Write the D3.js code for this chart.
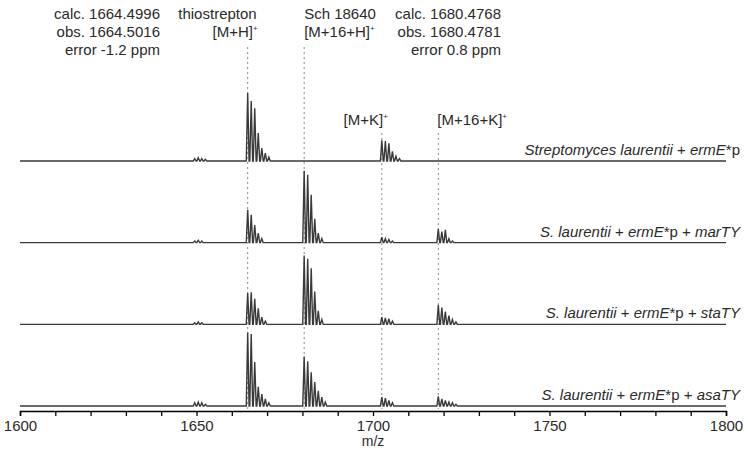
<!DOCTYPE html>
<html>
<head>
<meta charset="utf-8">
<script src="https://cdn.jsdelivr.net/npm/d3@7"></script>
<style>
  body { margin: 0; background: #fff; }
  text { font-family: "Liberation Sans", Arial, Helvetica, sans-serif; fill: #2a2a2a; }
</style>
</head>
<body>
<div id="canvas"></div>
<script>
// m/z of first isotope peak in each cluster
let clusterStart = [1649.5, 1664.5, 1680.5, 1702.5, 1718.5];
// isotope intensities per cluster (relative), one array per trace
let strep = [[3, 4, 3, 2], [85, 75, 66, 35, 16, 10, 5], [], [26, 25, 22, 12, 6, 3], []];
let marTY = [[2, 3, 2], [41, 35, 22, 12, 5], [90, 85, 60, 30, 12, 5], [7, 5, 4, 2], [17, 14, 16, 5, 2]];
let staTY = [[2, 3, 2], [39, 40, 32, 20, 9, 4], [86, 82, 70, 41, 17, 6], [9, 8, 7, 4], [24, 21, 16, 11, 6, 3]];
let asaTY = [[4, 5, 4, 2], [92, 90, 55, 24, 15, 9, 4], [62, 56, 42, 30, 19, 11, 5], [11, 10, 7, 4], [12, 9, 7, 5, 4, 2]];
let traces = [strep, marTY, staTY, asaTY];

let xTicks = [1600, 1650, 1700, 1750, 1800];
let markers = [1664.5, 1680.5, 1702.5, 1718.5];

const svgWidth = 748;
const svgHeight = 455;

const x = d3.scaleLinear().domain([1600, 1800]).range([20, 726]);
const row = d3.scalePoint().domain([0, 1, 2, 3]).range([161, 406]);
const h = d3.scaleLinear().domain([0, 100]).range([0, 80]);

const svg = d3.select("#canvas").append("svg")
    .attr("width", svgWidth)
    .attr("height", svgHeight);

// dotted marker lines
const markTop = [47, 47, 133, 133];
svg.selectAll(".marker")
    .data(markers)
    .enter()
    .append("line")
    .attr("x1", d => x(d)).attr("x2", d => x(d))
    .attr("y1", (d, i) => markTop[i])
    .attr("y2", 409)
    .attr("stroke", "#888")
    .attr("stroke-width", 1)
    .attr("stroke-dasharray", "2,3");

// spectra
function sticks(tr) {
    let s = [];
    tr.forEach(function(c, ci) {
        c.forEach(function(v, k) { s.push([clusterStart[ci] + k, v]); });
    });
    return s;
}

traces.forEach(function(tr, ti) {
    let pts = [[1600, 0]];
    sticks(tr).forEach(function(s) {
        pts.push([s[0] - 0.4, 0], [s[0], s[1]], [s[0] + 0.4, 0]);
    });
    pts.push([1800, 0]);
    const line = d3.line()
        .x(d => x(d[0]))
        .y(d => row(ti) - h(d[1]));
    svg.append("path")
        .attr("d", line(pts))
        .attr("fill", "none")
        .attr("stroke", "#3a3a3a")
        .attr("stroke-width", 1.4);
});

// axis
const axis = d3.axisBottom(x)
    .ticks(20)
    .tickSize(5)
    .tickFormat(d => xTicks.includes(d) ? d : "");
const ax = svg.append("g")
    .attr("transform", "translate(0,411)")
    .call(axis);
ax.select(".domain").attr("stroke", "#000").attr("stroke-width", 1.5);
ax.selectAll(".tick line").attr("stroke", "#000").attr("stroke-width", 1.3);
ax.selectAll(".tick text")
    .attr("dy", 0).attr("y", 20)
    .style("font-size", "15px")
    .style("font-family", "'Liberation Sans', Arial, sans-serif")
    .attr("fill", "#2a2a2a");

svg.append("text")
    .attr("x", x(1700)).attr("y", 446)
    .attr("text-anchor", "middle")
    .style("font-size", "14px")
    .text("m/z");

// trace labels
const labelParts = [
    [["Streptomyces laurentii", 1], [" + ", 0], ["ermE", 1], ["*p", 0]],
    [["S. laurentii", 1], [" + ", 0], ["ermE", 1], ["*p + ", 0], ["marTY", 1]],
    [["S. laurentii", 1], [" + ", 0], ["ermE", 1], ["*p + ", 0], ["staTY", 1]],
    [["S. laurentii", 1], [" + ", 0], ["ermE", 1], ["*p + ", 0], ["asaTY", 1]]
];
labelParts.forEach(function(parts, i) {
    const t = svg.append("text")
        .attr("x", 740).attr("y", row(i) - 6)
        .attr("text-anchor", "end")
        .style("font-size", "15px");
    parts.forEach(function(p) {
        t.append("tspan").text(p[0]).style("font-style", p[1] ? "italic" : "normal");
    });
});

// annotations
function label(txt, sup, xx, yy, anchor) {
    const t = svg.append("text")
        .attr("x", xx).attr("y", yy)
        .attr("text-anchor", anchor)
        .style("font-size", "15px");
    t.append("tspan").text(txt);
    if (sup) t.append("tspan").text(sup).attr("dy", -6).style("font-size", "8px");
}
label("calc. 1664.4996", "", 160, 19, "end");
label("obs. 1664.5016", "", 160, 37, "end");
label("error -1.2 ppm", "", 160, 55, "end");
label("thiostrepton", "", x(1664.5) + 9, 19, "end");
label("[M+H]", "+", x(1664.5) + 10, 37, "end");
label("Sch 18640", "", x(1680.5), 19, "start");
label("[M+16+H]", "+", x(1680.5), 37, "start");
label("calc. 1680.4768", "", 501, 19, "end");
label("obs. 1680.4781", "", 501, 37, "end");
label("error 0.8 ppm", "", 501, 55, "end");
label("[M+K]", "+", x(1702.5) + 6, 125, "end");
label("[M+16+K]", "+", x(1718.5) - 1, 125, "start");
</script>
</body>
</html>
